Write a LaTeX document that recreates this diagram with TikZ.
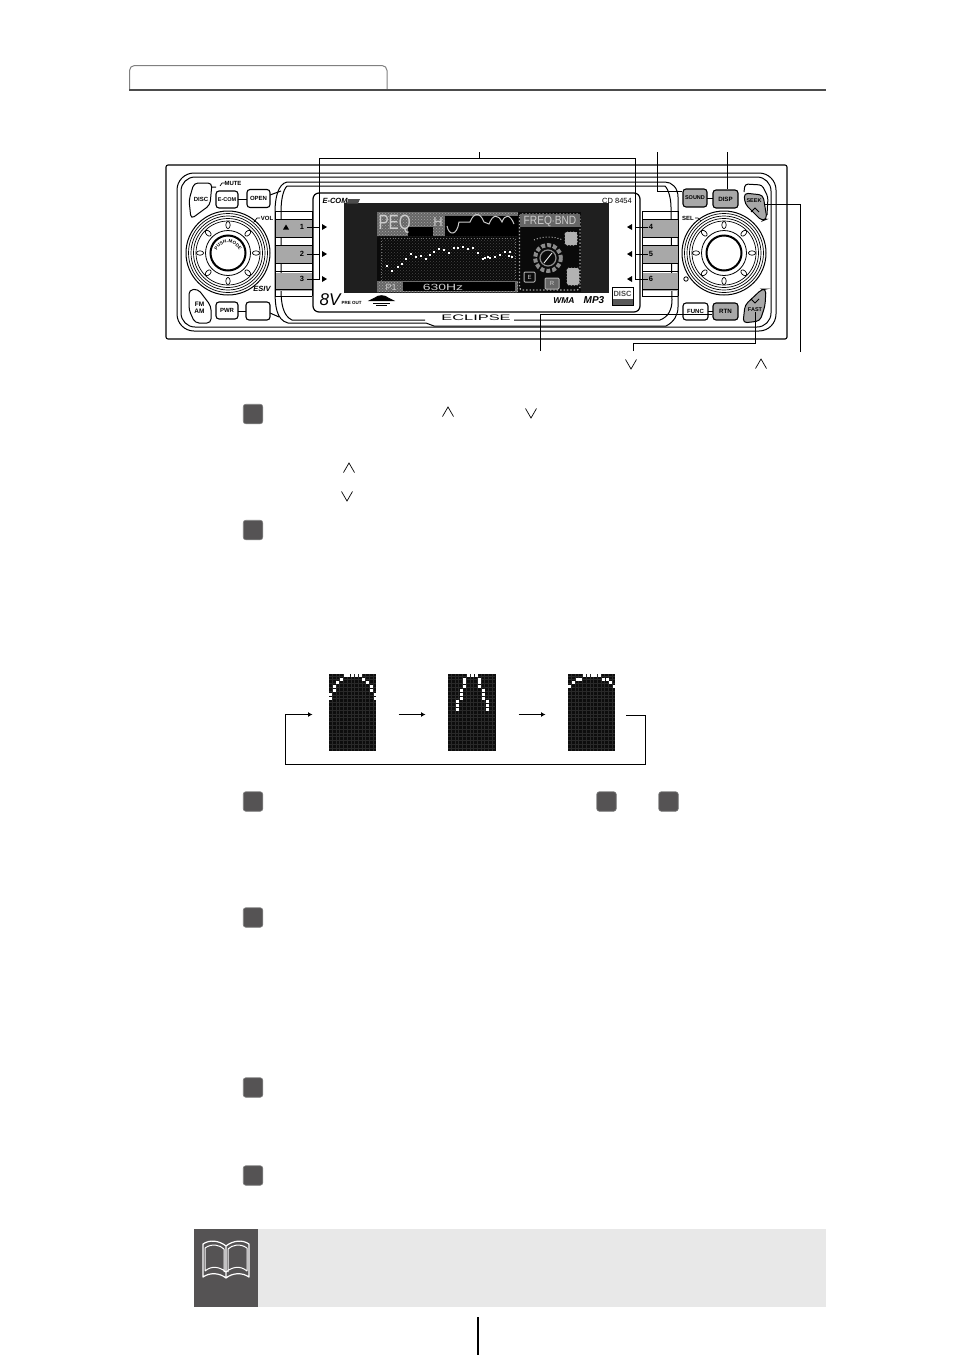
\documentclass[tikz,border=0pt]{standalone}
\usepackage{fontspec}
\setmainfont{Liberation Sans}
\usetikzlibrary{arrows.meta,positioning,patterns,decorations.text}
\definecolor{btngray}{HTML}{A8A8A8}
\definecolor{stepgray}{HTML}{555354}
\definecolor{bandgray}{HTML}{E8E8E8}
\newcommand{\caretup}[2]{\draw[caretline] (#1-5.5,#2+4.5) -- (#1,#2-5) -- (#1+5.5,#2+4.5);}
\newcommand{\caretdown}[2]{\draw[caretline] (#1-5.5,#2-4.5) -- (#1,#2+5) -- (#1+5.5,#2-4.5);}
\newcommand{\paneldots}[2]{\foreach \c/\r in {#2} \fill[white] ({#1+\c*3.73-1.5},{675.3+\r*3.8-1.5}) rectangle ++(3,3);}
% knob with rings, eight small lamps
\newcommand{\knobrings}[2]{
  \foreach \rad/\wd in {42/1,39.5/.7,37/.7,34.5/.7,32/.7,22.5/.8,17.5/2} \draw[line width=\wd pt] (#1,#2) circle (\rad);
  \foreach \ang in {0,45,...,315} \draw[line width=.7pt, fill=white] ({#1+28*cos(\ang)},{#2+28*sin(\ang)}) circle[x radius=3.6, y radius=2.2, rotate=-\ang];
}
\begin{document}
\begin{tikzpicture}[x=1pt,y=-1pt,
    line width=1pt,
    softbtn/.style={draw, rounded corners=3pt, fill=white, inner sep=0pt, line width=1.1pt},
    graybtn/.style={softbtn, fill=btngray},
    keybar/.style={draw=none, fill=btngray, minimum width=37pt, minimum height=18pt, inner sep=0pt},
    label/.style={inner sep=0pt, font=\bfseries\fontsize{6}{6}\selectfont},
    numlabel/.style={inner sep=0pt, font=\bfseries\fontsize{7.5}{7.5}\selectfont},
    lcdtext/.style={inner sep=0pt, text=white!80!black, font=\fontsize{9}{9}\selectfont},
    leader/.style={draw, line width=1pt},
    stepbox/.style={draw=gray, fill=stepgray, rounded corners=2.5pt, minimum size=19.5pt, inner sep=0pt, line width=.6pt},
    panel/.style={fill=black!95, minimum height=77pt, inner sep=0pt},
    flowarrow/.style={-{Latex[length=4.5pt,width=5pt]}, line width=1.6pt, shorten <=22pt, shorten >=22pt},
    caretline/.style={line width=.7pt},
    dotfill/.style={pattern=crosshatch dots, pattern color=black!35}
  ]
  \useasboundingbox (0,0) rectangle (954,1355);

  % header tab
  \draw[line width=1pt, black!50, rounded corners=5pt] (129.5,89) -- (129.5,65.5) -- (387,65.5) -- (387,89);
  \draw[line width=1.6pt, black!70] (129,90) -- (826,90);

  % unit outline
  \draw[rounded corners=2pt, line width=1.1pt] (166,165) rectangle (787,339);
  \draw[rounded corners=17pt] (177,173) rectangle (776,331);
  \draw[rounded corners=14pt] (181,177) rectangle (771,327);

  % centre face
  \draw[fill=white] (287,182) .. controls (278,184) and (275,198) .. (275,212) -- (275,290) .. controls (275,305) and (276,320) .. (288,323) -- (426,323) -- (434,326) -- (666,326) .. controls (674,322) and (678,315) .. (678,307) -- (678,197) .. controls (678,188) and (672,182) .. (665,182) -- cycle;
  \draw (287,186) .. controls (283,190) and (281,200) .. (281,212) -- (281,290) .. controls (281,303) and (283,316) .. (292,320) -- (425,320);
  \draw (287,186) -- (665,186) .. controls (669,190) and (671,200) .. (671,207) -- (672,300) .. controls (672,310) and (668,317) .. (660,320) -- (514,320);
  \draw (270,195) -- (281,191) (270,313) -- (279,317) (212,187) -- (216,187);

  % key bars
  \node[keybar] (keyone) at (293.5,228) {};
  \node[keybar, below=8pt of keyone] (keytwo) {};
  \node[keybar, below=8pt of keytwo] (keythree) {};
  \node[keybar] (keyfour) at (660.5,228) {};
  \node[keybar, below=8pt of keyfour] (keyfive) {};
  \node[keybar, below=8pt of keyfive] (keysix) {};
  \foreach \ya in {211,219,237,245,263,271} \draw[line width=.8pt] (275,\ya) -- (312,\ya) (642,\ya) -- (678,\ya);
  \draw[line width=1.6pt] (275,289.5) -- (312,289.5) (642,289.5) -- (678,289.5);
  \draw[line width=.8pt] (275,296) -- (312,296) (642,296) -- (678,296);
  \foreach \x in {275,312,642,678} \draw[line width=.8pt] (\x,211) -- (\x,296);

  % display window
  \draw[fill=white, rounded corners=6pt, line width=1.2pt] (313,193) rectangle (640,312);
  \fill[black!88] (344,203) rectangle (609,293);
  \fill[black!96] (377,212) rectangle (581,292);
  \fill[pattern=crosshatch dots, pattern color=black!72] (380,238) rectangle (516,281);

  % lcd top band
  \fill[black!60] (377,212) rectangle (518,236);
  \fill[dotfill] (377,212) rectangle (518,236);
  \fill[black] (408,227) rectangle (433,236);
  \fill[black] (445,216) rectangle (518,236);
  \node[lcdtext, anchor=west, font=\fontsize{18}{18}\selectfont] (peqtext) at (378,224) {\scalebox{.85}[1.15]{PEQ}};
  \node[lcdtext, font=\fontsize{13}{13}\selectfont] (hightext) at (438,222) {H};
  \draw[white!80!black, line width=1pt] (447,226) .. controls (449,236) and (457,236) .. (459,222) -- (470,222) .. controls (474,212) and (480,212) .. (484,222) -- (489,224) .. controls (493,214) and (498,214) .. (502,222) .. controls (505,214) and (510,214) .. (514,224);
  % lcd plot
  \draw[black!55, line width=.8pt, dotted] (381,238) rectangle (515,281);
  \foreach \px/\py in {387/266,392/271,398/267,402/264,406/259,411/254,416/257,421/256,426/259,430/255,434/252,439/249,444/250,449/253,454/248,458/248,463/247,468/249,473/248,478/253,483/259,488/257,485/258,490/258,495/257,500/255,505/252,510/252,509/256,512/257}
    \fill[white] (\px-1,\py-1) rectangle ++(2.2,2);
  \fill[black!60] (377,281) rectangle (518,292);
  \fill[dotfill] (377,281) rectangle (518,292);
  \fill[black] (403,282) rectangle (515,291);
  \node[lcdtext] (bandtext) at (391,287) {P1};
  \node[lcdtext] (freqtext) at (443,287) {\scalebox{1.55}[1]{630Hz}};

  % lcd right panel
  \draw[black!35, line width=1.4pt, dotted, rounded corners=3pt] (519.5,214) rectangle (580,290);
  \fill[black!60] (520,214) rectangle (580,227);
  \node[lcdtext, font=\fontsize{10}{10}\selectfont] (bandhead) at (550,221) {\scalebox{1.02}[1.2]{FREQ$\cdot$BND}};
  \draw[black!45, line width=4pt, dotted] (548,258) circle (13);
  \draw[black!45, line width=1.2pt] (548,258) circle (8);
  \draw[white, line width=.8pt] (544,263) -- (552,253);
  \draw[black!30, line width=1pt, dotted] (534,240) .. controls (543,236) and (553,236) .. (563,240);
  \draw[fill=black!50, black!30, dotted, rounded corners=2pt] (565,232) rectangle (577,245);
  \draw[fill=black!50, black!30, dotted, rounded corners=2pt] (567,268) rectangle (579,285);
  \draw[black!30, line width=1pt, rounded corners=1pt] (524,272) rectangle (535,282);
  \node[lcdtext, font=\fontsize{6}{6}\selectfont] (elabel) at (529.5,277) {E};
  \draw[black!30, fill=black!60, line width=1pt, rounded corners=1pt] (545,278) rectangle (559,289);
  \node[lcdtext, font=\fontsize{6}{6}\selectfont] (rlabel) at (552,283.5) {R};

  % window marks
  \node[inner sep=0pt, font=\bfseries\itshape\fontsize{7.5}{7.5}\selectfont] (ecomtext) at (335,201) {E-COM};
  \fill[black!70] (348,199) -- (360,199) -- (358,203.5) -- (347,203.5) -- cycle;
  \node[inner sep=0pt, font=\fontsize{7.5}{7.5}\selectfont] (modeltext) at (617,201) {CD 8454};
  \node[inner sep=0pt, font=\itshape\fontsize{17}{17}\selectfont] (volttext) at (330,300) {8V};
  \node[inner sep=0pt, font=\bfseries\fontsize{4.5}{4.5}\selectfont, anchor=west] (pretext) at (341,303) {PRE OUT};
  \draw[fill=black] (370,300.5) -- (393,300.5) -- (388,298) .. controls (385,295) and (378,295) .. (375,298) -- cycle;
  \draw[line width=.8pt] (373,303) -- (390,303) (376,305) -- (387,305);
  \node[inner sep=0pt, font=\bfseries\itshape\fontsize{8.5}{8.5}\selectfont] (wmatext) at (564,301) {WMA};
  \node[inner sep=0pt, font=\bfseries\itshape\fontsize{10}{10}\selectfont] (mptext) at (594,300) {MP3};
  \fill[black!65] (612,299) rectangle (633,305);
  \draw[line width=.7pt] (612,287) rectangle (633,305);
  \node[inner sep=0pt, font=\bfseries\fontsize{7.5}{7.5}\selectfont, text=black!70] (disclogo) at (622.5,293.5) {DISC};
  \node[inner sep=0pt, font=\fontsize{8}{8}\selectfont] (brandtext) at (476,317.5) {\scalebox{2.05}[1]{ECLIPSE}};

  % key numbers
  \node[numlabel] (numone) at (302,227) {1};
  \node[numlabel] (numtwo) at (302,254) {2};
  \node[numlabel] (numthree) at (302,279) {3};
  \node[numlabel] (numfour) at (651,227) {4};
  \node[numlabel] (numfive) at (651,254) {5};
  \node[numlabel] (numsix) at (651,279) {6};
  \fill (283,229.5) -- (289,229.5) -- (286,224.5) -- cycle;
  \foreach \ya in {227,254,279} {
    \fill (322,\ya-3) -- (327,\ya) -- (322,\ya+3) -- cycle;
    \fill (632,\ya-3) -- (627,\ya) -- (632,\ya+3) -- cycle;
  }

  % knobs
  \knobrings{228}{253}
  \knobrings{724}{253}
  \path[decorate, decoration={text along path, text align=center, text={|\bfseries\fontsize{4.6}{4.6}\selectfont|PUSH-MODE}}] (216,255) arc[start angle=180,end angle=360,radius=12];
  \node[label] (voltop) at (267,218) {VOL};
  \draw[line width=.7pt] (260,218) -- (257,218) -- (254,222);
  \node[label] (seltop) at (688,218) {SEL};
  \draw[line width=.7pt] (695,218) -- (698,218) -- (701,221);
  \node[inner sep=0pt, font=\bfseries\itshape\fontsize{7.5}{7.5}\selectfont] (esivtext) at (262,289) {ESIV};
  \draw[line width=.8pt] (686,279) circle (2.2);
  \node[label] (mutetop) at (233,183) {MUTE};
  \draw[line width=.7pt] (225,183) -- (222,183) -- (220,186);

  % buttons
  \draw[fill=white, rounded corners=4pt] (194,183) -- (212,183) -- (210,205) -- (191,219) -- (189,200) -- cycle;
  \node[label] (disctext) at (201,199.5) {DISC};
  \node[softbtn, minimum width=22pt, minimum height=17pt] (ecom) at (227,199.5) {\bfseries\fontsize{5.5}{5.5}\selectfont E-COM};
  \node[softbtn, minimum width=23pt, minimum height=18pt] (openbtn) at (258.5,198.5) {\bfseries\fontsize{6}{6}\selectfont OPEN};
  \draw[fill=white, rounded corners=4pt] (189,290) -- (198,289) -- (211,306) -- (211,323) -- (195,323) -- (189,310) -- cycle;
  \node[label, align=center, font=\bfseries\fontsize{6.5}{7}\selectfont] (fmtext) at (199.5,308) {FM\\AM};
  \node[softbtn, minimum width=22pt, minimum height=17pt] (pwr) at (227,310.5) {\bfseries\fontsize{6}{6}\selectfont PWR};
  \node[softbtn, minimum width=24pt, minimum height=18pt] (blankbtn) at (258,311) {};
  \node[graybtn, minimum width=24pt, minimum height=18pt] (sound) at (695,198) {\bfseries\fontsize{5.5}{5.5}\selectfont SOUND};
  \node[graybtn, minimum width=25pt, minimum height=18pt] (disp) at (725.5,199) {\bfseries\fontsize{6.2}{6.2}\selectfont DISP};
  \draw[fill=white, rounded corners=3pt] (744,192) -- (745,184) -- (762,185) -- (768,197) -- (767,215);
  \draw[fill=btngray, rounded corners=4pt] (744,193) -- (763,195) -- (767,219) -- (762,221) -- (745,204) -- cycle;
  \node[label, font=\bfseries\fontsize{5.5}{5.5}\selectfont] (seektext) at (754,201) {SEEK};
  \draw[line width=.9pt] (751,212) -- (755,208) -- (759,212);
  \node[softbtn, minimum width=25pt, minimum height=17pt] (func) at (695.5,311.5) {\bfseries\fontsize{6}{6}\selectfont FUNC};
  \node[graybtn, minimum width=25pt, minimum height=17pt] (rtn) at (725.5,311.5) {\bfseries\fontsize{6.2}{6.2}\selectfont RTN};
  \draw[fill=btngray, rounded corners=4pt] (762,289) -- (766,289) -- (765,306) -- (760,321) -- (743,323) -- (745,305) -- cycle;
  \node[label, font=\bfseries\fontsize{5.5}{5.5}\selectfont] (fasttext) at (755,310) {FAST};
  \draw[line width=.9pt] (751,299) -- (755,303) -- (759,299);
  \draw (238,199) -- (247,199) (238,311) -- (246,311) (707,198) -- (713,198) (708,311) -- (713,311);

  % leaders
  \coordinate (toplabel) at (479,152);
  \coordinate (barleft) at (319,158);
  \coordinate (barright) at (635,158);
  \coordinate (barmid) at (479,158);
  \draw[leader] (barleft) -- (barright);
  \draw[leader] (toplabel) -- (barmid);
  \foreach \tg in {numone,numtwo,numthree} \draw[leader] (barleft) |- ([xshift=2.5pt]\tg.east);
  \foreach \tg in {numfour,numfive,numsix} \draw[leader] (barright) |- (\tg.west);
  \coordinate (soundend) at (657,152);
  \coordinate (dispend) at (727,152);
  \coordinate (seekend) at (800,352);
  \coordinate (seekhit) at (764,204);
  \coordinate (rtnend) at (540,351);
  \coordinate (fastend) at (633,351);
  \coordinate (fastknee) at (755,343);
  \draw[leader] (soundend) |- ([yshift=7pt]sound.west);
  \draw[leader] (dispend) -- (dispend |- disp.north);
  \draw[leader] (seekend) |- (seekhit);
  \draw[leader] (rtnend) |- ([yshift=-2.5pt]rtn.west);
  \draw[leader] (fastend) |- (fastknee) -- (fasttext.south);
  \caretdown{631}{364}
  \caretup{761}{364}

  % step marks
  \node[stepbox] (stepa) at (253,414) {};
  \node[stepbox] (stepb) at (253,530) {};
  \node[stepbox] (stepc) at (253,801.5) {};
  \node[stepbox] (stepd) at (606.5,801.5) {};
  \node[stepbox] (stepe) at (668.5,801.5) {};
  \node[stepbox] (stepf) at (253,917.5) {};
  \node[stepbox] (stepg) at (253,1087.5) {};
  \node[stepbox] (steph) at (253,1175.5) {};
  \caretup{448}{412}
  \caretdown{531}{413}
  \caretup{349}{468}
  \caretdown{347}{496}

  % eq panels
  \node[panel, minimum width=47pt] (panela) at (352.5,712.5) {};
  \node[panel, minimum width=48pt] (panelb) at (472,712.5) {};
  \node[panel, minimum width=47pt] (panelc) at (591.5,712.5) {};
  \foreach \pa in {329,448,568} {
    \foreach \ka in {1,...,12} \draw[black!84, line width=.5pt] ({\pa+\ka*3.73-.6},674) -- ({\pa+\ka*3.73-.6},751);
    \foreach \ka in {1,...,20} \draw[black!84, line width=.5pt] (\pa,{672+\ka*3.8}) -- (\pa+47,{672+\ka*3.8});
  }
  \paneldots{330.3}{4/0,5/0,6/0,7/0,8/0,3/1,9/1,2/2,10/2,1/3,11/3,1/4,11/4,0/5,12/5,0/6,12/6}
  \paneldots{450}{5/0,6/0,7/0,4/1,8/1,4/2,8/2,4/3,8/3,3/4,9/4,3/5,9/5,3/6,9/6,2/7,10/7,2/8,10/8,2/9,10/9}
  \paneldots{569.7}{4/0,5/0,6/0,7/0,8/0,2/1,3/1,9/1,10/1,1/2,11/2,0/3,12/3}
  \coordinate (loopin) at (285,714.5);
  \coordinate (loopout) at (645.5,715.5);
  \coordinate (loopbot) at (285,764);
  \coordinate (loopstart) at (626,715.5);
  \draw[flowarrow, shorten <=0pt, shorten >=16pt] (loopin) -- (panela.west |- loopin);
  \draw[flowarrow] ([yshift=-2pt]panela.east) -- ([yshift=-2pt]panelb.west);
  \draw[flowarrow] ([yshift=-2pt]panelb.east) -- ([yshift=-2pt]panelc.west);
  \draw[line width=.9pt] (loopstart) -- (loopout) |- (loopbot) -- (loopin);

  % note band
  \fill[bandgray] (258,1229) rectangle (826,1307);
  \fill[stepgray] (194,1229) rectangle (258,1307);
  \draw[white, line width=1.2pt, line join=round]
    (226,1246) .. controls (220,1241) and (210,1239) .. (203,1244) -- (203,1277)
    .. controls (210,1272) and (220,1273) .. (226,1278)
    .. controls (232,1273) and (242,1272) .. (249,1277) -- (249,1244)
    .. controls (242,1239) and (232,1241) .. (226,1246) -- (226,1278);
  \draw[white, line width=1pt]
    (205,1248) .. controls (212,1243) and (220,1245) .. (224,1249)
    (247,1248) .. controls (240,1243) and (232,1245) .. (228,1249)
    (205,1248) -- (205,1271) (247,1248) -- (247,1271) (224,1249) -- (224,1272) (228,1249) -- (228,1272)
    (205,1271) .. controls (212,1265) and (220,1267) .. (226,1272)
    .. controls (232,1267) and (240,1265) .. (247,1271);

  % page rule
  \coordinate (ruletop) at (478,1317);
  \coordinate (rulebot) at (478,1355);
  \draw[line width=1.1pt] (ruletop) -- (rulebot);
\end{tikzpicture}
\end{document}
